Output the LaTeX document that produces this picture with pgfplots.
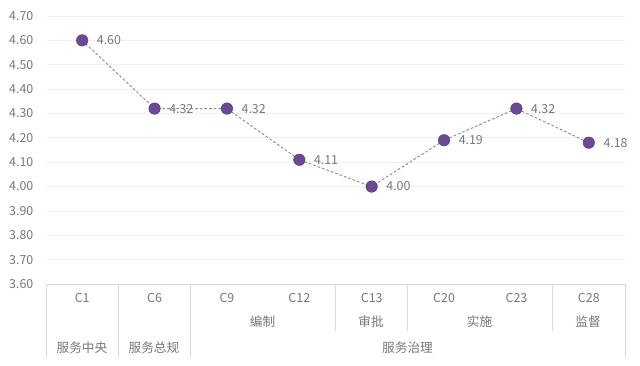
\documentclass[border=0pt]{standalone}
\usepackage{pgfplots}
\pgfplotsset{compat=1.18}
\usepackage{fontspec}
\setmainfont{Noto Sans CJK SC}
\definecolor{pt}{HTML}{6A4A94}
\definecolor{txt}{HTML}{777777}
\definecolor{gridc}{HTML}{F0F0F0}
\definecolor{tbl}{HTML}{D9D9D9}
\definecolor{ln}{HTML}{8C8C8C}
\begin{document}
\begin{tikzpicture}[x=0.75pt,y=0.75pt,font=\fontsize{9.3}{11}\selectfont]
\path (-46,-81) rectangle (594,284);
\begin{axis}[at={(0,0)},anchor=south west,scale only axis,
  width=434.25pt,height=201pt,
  xmin=-0.5,xmax=7.5,ymin=3.6,ymax=4.7,
  ytick={3.6,3.7,3.8,3.9,4.0,4.1,4.2,4.3,4.4,4.5,4.6,4.7},
  /pgf/number format/assume math mode=true,
  yticklabel style={text=txt,xshift=-6pt,/pgf/number format/fixed,/pgf/number format/fixed zerofill,/pgf/number format/precision=2},
  xtick={0,...,7},
  xticklabels={C1,C6,C9,C12,C13,C20,C23,C28},
  xticklabel style={anchor=center,yshift=-10.5pt,text=txt},
  major tick length=0pt,
  axis line style={draw=none},
  ymajorgrids,
  grid style={gridc,line width=0.6pt},
  clip=false,
  nodes near coords={\pgfmathprintnumber[fixed,fixed zerofill,precision=2,assume math mode=true]{\pgfplotspointmeta}},
  every node near coord/.style={anchor=west,xshift=7.5pt,text=txt,font=\fontsize{9.3}{11}\selectfont},
]
\addplot[ln,line width=0.7pt,dash pattern=on 2pt off 1.5pt,
  mark=*,mark size=4.3pt,mark options={solid,fill=pt,draw=pt!85!black,line width=0.4pt}]
  coordinates {(0,4.60) (1,4.32) (2,4.32) (3,4.11) (4,4.00) (5,4.19) (6,4.32) (7,4.18)};
\end{axis}
% category table
\draw[tbl,line width=0.7pt] (0,0) -- (579,0);
\foreach \X in {0,72,144,579} \draw[tbl,line width=0.7pt] (\X,0) -- (\X,-73);
\foreach \X in {289,361,506} \draw[tbl,line width=0.7pt] (\X,0) -- (\X,-47);
\begin{scope}[every node/.style={text=txt,font=\fontsize{9.5}{11}\selectfont}]
\node at (216.5,-38) {编制};
\node at (325,-38) {审批};
\node at (433.5,-38) {实施};
\node at (542,-38) {监督};
\node at (36,-64) {服务中央};
\node at (108,-64) {服务总规};
\node at (361.5,-64) {服务治理};
\end{scope}
\end{tikzpicture}
\end{document}
